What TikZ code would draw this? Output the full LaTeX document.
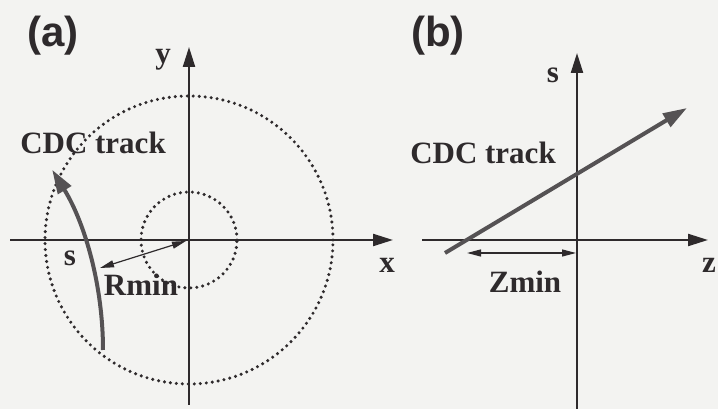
\documentclass[tikz,border=0pt]{standalone}
\usepackage{fontspec}
\setmainfont{Liberation Serif}
\newfontfamily\panelfont{Liberation Sans}
\usetikzlibrary{arrows.meta}
\definecolor{ink}{HTML}{2E2A2C}
\definecolor{trackgray}{HTML}{555254}
\definecolor{paper}{HTML}{F3F3F1}
\tikzset{
  axis/.style={line width=2.2pt,ink,-{Triangle[length=20pt,width=12pt]}},
  lbl/.style={inner sep=0pt,ink,font=\fontsize{31}{31}\selectfont\bfseries},
  panel/.style={inner sep=0pt,ink,font=\panelfont\fontsize{42}{42}\selectfont\bfseries},
  ring/.style={ink,line width=3.4pt,line cap=round,dash pattern=on 0pt off 6pt},
  track/.style={trackgray,line width=4pt,-{Triangle[length=24pt,width=15pt]}},
  span/.style={ink,line width=1.2pt,{Triangle[length=14pt,width=7pt]}-{Triangle[length=14pt,width=7pt]}}
}

\begin{document}
\begin{tikzpicture}[x=1pt,y=1pt]
\fill[paper] (0,0) rectangle (718,409);
\useasboundingbox (0,0) rectangle (718,409);
% (a) transverse view
\coordinate (oa) at (189,169);
\coordinate (xl) at (10,169);
\coordinate (xr) at (393,169);
\coordinate (yb) at (189,4);
\coordinate (yt) at (189,362);
\draw[axis] (xl)--(xr);
\draw[axis] (yb)--(yt);
\draw[ring] (oa) circle (144);
\draw[ring] (oa) circle (48);
\coordinate (ta) at (103,59);
\draw[track] (ta) arc (0:31.5:345);
\coordinate (ra) at (100,141);
\coordinate (rb) at (186,168);
\draw[span] (ra)--(rb);
\node[panel] (pa) at (53,373) {(a)};
\node[lbl] (xa) at (387,144) {x};
\node[lbl] (ya) at (163,349) {y};
\node[lbl] (sa) at (70,151) {s};
\node[lbl] (rmin) at (141,124) {Rmin};
\node[lbl] (cdca) at (93,266) {CDC track};
% (b) longitudinal view
\coordinate (ob) at (577,169);
\coordinate (zl) at (422,169);
\coordinate (zr) at (708,169);
\coordinate (sb) at (577,-2);
\coordinate (st) at (577,356);
\draw[axis] (zl)--(zr);
\draw[axis] (sb)--(st);
\coordinate (tb) at (445,156);
\coordinate (te) at (687,301);
\draw[track] (tb)--(te);
\coordinate (za) at (467,156);
\coordinate (zb) at (576,156);
\draw[span] (za)--(zb);
\node[panel] (pb) at (438,373) {(b)};
\node[lbl] (zlab) at (709,144) {z};
\node[lbl] (slab) at (553,334) {s};
\node[lbl] (zmin) at (525,127) {Zmin};
\node[lbl] (cdcb) at (483,256) {CDC track};
\end{tikzpicture}
\end{document}
